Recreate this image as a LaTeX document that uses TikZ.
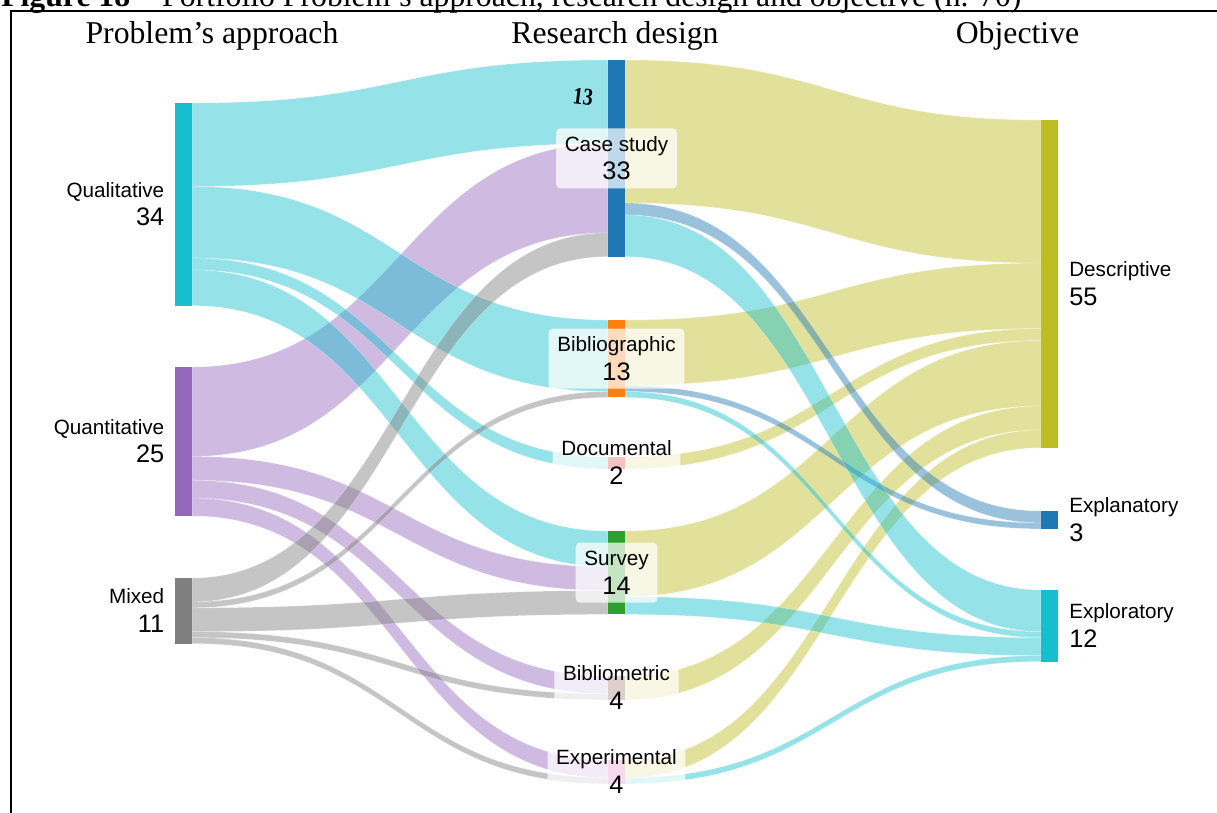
\documentclass[tikz,border=0pt]{standalone}
\usepackage{fontspec}
\setmainfont{Liberation Serif}
\newfontfamily\lsans{Liberation Sans}
\usetikzlibrary{calc,backgrounds}

% node palette
\definecolor{cyanC}{HTML}{17BECF}
\definecolor{purpleC}{HTML}{9467BD}
\definecolor{grayC}{HTML}{7F7F7F}
\definecolor{blueC}{HTML}{1F77B4}
\definecolor{orangeC}{HTML}{FF7F0E}
\definecolor{redC}{HTML}{D62728}
\definecolor{greenC}{HTML}{2CA02C}
\definecolor{brownC}{HTML}{8C564B}
\definecolor{pinkC}{HTML}{E377C2}
\definecolor{oliveC}{HTML}{BCBD22}

% height of one unit of flow
\def\kk{4.47pt}

\newcommand\headfont{\fontsize{23.8}{28}\selectfont}
\newcommand\lblfont{\lsans\fontsize{15.5}{18}\selectfont}
\newcommand\valfont{\lsans\fontsize{19}{22}\selectfont}

% band from #1 (offset #2 units) to #3 (offset #4 units), #5 units thick, colour #6
\newcommand\sflow[6]{%
  \path[flow=#6] let \p1=(#1.north east), \p2=(#3.north west),
    \n1={\y1-(#2)*\kk}, \n2={\y2-(#4)*\kk}, \n3={(#5)*\kk}, \n4={(\x1+\x2)/2} in
    (\x1,\n1) .. controls (\n4,\n1) and (\n4,\n2) .. (\x2,\n2)
    -- (\x2,\n2-\n3) .. controls (\n4,\n2-\n3) and (\n4,\n1-\n3) .. (\x1,\n1-\n3) -- cycle;}

\begin{document}
\begin{tikzpicture}[x=0.75pt,y=-0.75pt,
  bar/.style={rectangle,inner sep=0pt,outer sep=0pt,minimum width=12.75pt,
    anchor=north west,draw=none,fill=#1},
  flow/.style={fill=#1,fill opacity=0.45,draw=white,draw opacity=0.35,line width=0.4pt},
  lbox/.style={fill=white,fill opacity=0.72,rounded corners=3pt,inner xsep=6.5pt,
    inner ysep=0pt,minimum height=45pt,draw=none},
  lname/.style={font=\lblfont,inner sep=0pt},
  lval/.style={font=\valfont,inner sep=0pt}]
\useasboundingbox (0,0) rectangle (1217,813);
\clip (0,0) rectangle (1217,813);

% title and column headings
\node[anchor=base west,inner sep=0pt,font=\headfont] (title) at (1,7)
  {\textbf{Figure 18 –} Portfolio Problem’s approach, research design and objective (n. 70)};
\node[anchor=base,inner sep=0pt,font=\headfont] (hA) at (212,43.5) {Problem’s approach};
\node[anchor=base,inner sep=0pt,font=\headfont] (hB) at (615,43.5) {Research design};
\node[anchor=base,inner sep=0pt,font=\headfont] (hC) at (1017.5,43.5) {Objective};

% problem's approach
\node[bar=cyanC,minimum height=34*\kk] (qual) at (175,103) {};
\node[bar=purpleC,minimum height=25*\kk] (quant) at (175,367) {};
\node[bar=grayC,minimum height=11*\kk] (mixed) at (175,578) {};
% research design
\node[bar=blueC,minimum height=33*\kk] (case) at (608,60) {};
\node[bar=orangeC,minimum height=13*\kk] (biblio) at (608,320) {};
\node[bar=redC,minimum height=2*\kk] (docu) at (608,457) {};
\node[bar=greenC,minimum height=14*\kk] (survey) at (608,531) {};
\node[bar=brownC,minimum height=4*\kk] (bmetric) at (608,676) {};
\node[bar=pinkC,minimum height=4*\kk] (exper) at (608,760) {};
% objective
\node[bar=oliveC,minimum height=55*\kk] (desc) at (1041,120) {};
\node[bar=blueC,minimum height=3*\kk] (expla) at (1041,511) {};
\node[bar=cyanC,minimum height=12*\kk] (explo) at (1041,590) {};

\begin{scope}[on background layer]
% approach -> design
\sflow{quant}{0}{case}{14}{15}{purpleC}
\sflow{quant}{15}{survey}{6}{4}{purpleC}
\sflow{quant}{19}{bmetric}{0}{3}{purpleC}
\sflow{quant}{22}{exper}{0}{3}{purpleC}
\sflow{qual}{0}{case}{0}{14}{cyanC}
\sflow{qual}{14}{biblio}{0}{12}{cyanC}
\sflow{qual}{26}{docu}{0}{2}{cyanC}
\sflow{qual}{28}{survey}{0}{6}{cyanC}
\sflow{mixed}{0}{case}{29}{4}{grayC}
\sflow{mixed}{4}{biblio}{12}{1}{grayC}
\sflow{mixed}{5}{survey}{10}{4}{grayC}
\sflow{mixed}{9}{bmetric}{3}{1}{grayC}
\sflow{mixed}{10}{exper}{3}{1}{grayC}
% design -> objective
\sflow{case}{0}{desc}{0}{24}{oliveC}
\sflow{biblio}{0}{desc}{24}{11}{oliveC}
\sflow{docu}{0}{desc}{35}{2}{oliveC}
\sflow{survey}{0}{desc}{37}{11}{oliveC}
\sflow{bmetric}{0}{desc}{48}{4}{oliveC}
\sflow{exper}{0}{desc}{52}{3}{oliveC}
\sflow{case}{24}{expla}{0}{2}{blueC}
\sflow{biblio}{11}{expla}{2}{1}{blueC}
\sflow{case}{26}{explo}{0}{7}{cyanC}
\sflow{biblio}{12}{explo}{7}{1}{cyanC}
\sflow{survey}{11}{explo}{8}{3}{cyanC}
\sflow{exper}{3}{explo}{11}{1}{cyanC}
\end{scope}

% left labels
\foreach \n/\t/\v in {qual/Qualitative/34, quant/Quantitative/25, mixed/Mixed/11}{
  \node[lname,anchor=base east] (\n-name) at ([xshift=-7.9pt,yshift=5.25pt]\n.west) {\t};
  \node[lval,anchor=base east] (\n-val) at ([xshift=-7.9pt,yshift=-16.1pt]\n.west) {\v};
}
% right labels
\foreach \n/\t/\v in {desc/Descriptive/55, expla/Explanatory/3, explo/Exploratory/12}{
  \node[lname,anchor=base west] (\n-name) at ([xshift=8.25pt,yshift=5.25pt]\n.east) {\t};
  \node[lval,anchor=base west] (\n-val) at ([xshift=8.25pt,yshift=-16.1pt]\n.east) {\v};
}
% middle labels on translucent boxes
\foreach \n/\t/\v in {case/Case study/33, biblio/Bibliographic/13, docu/Documental/2,
    survey/Survey/14, bmetric/Bibliometric/4, exper/Experimental/4}{
  \node[lbox] (\n-box) at (\n.center) {\lblfont\phantom{\t}};
  \node[lname,anchor=base] (\n-name) at ([yshift=5.25pt]\n.center) {\t};
  \node[lval,anchor=base] (\n-val) at ([yshift=-16.1pt]\n.center) {\v};
}

% handwritten count on the top band
\node[inner sep=0pt,rotate=-7,font=\bfseries\fontsize{15}{15}\selectfont] (note) at (583,97)
  {\scalebox{1}[1.2]{13}};

% frame
\draw[line width=1.5pt] (11,813) -- (11,11) -- (1217,11);
\end{tikzpicture}
\end{document}
